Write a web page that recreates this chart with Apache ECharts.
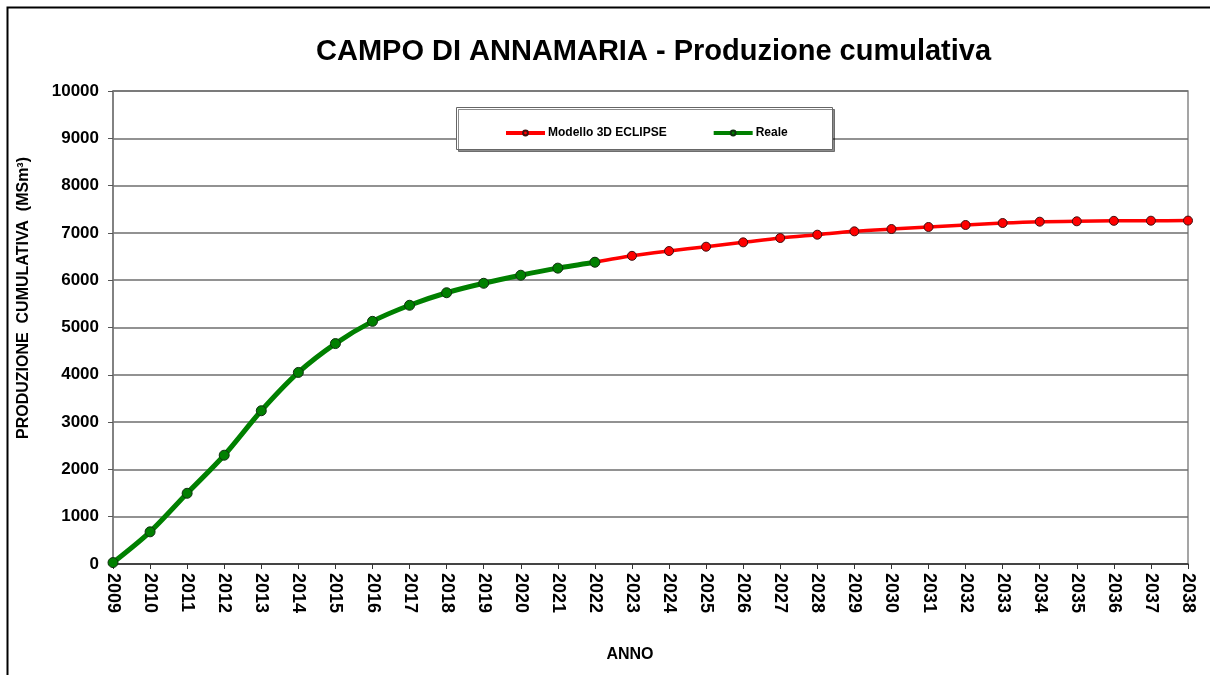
<!DOCTYPE html>
<html>
<head>
<meta charset="utf-8">
<script src="https://cdn.jsdelivr.net/npm/echarts@6/dist/echarts.min.js"></script>
<style>
html, body { margin: 0; padding: 0; background: #fff; }
#main { width: 1210px; height: 675px; }
</style>
</head>
<body>
<div id="main"></div>
<script>
// dati
var anni = ['2009','2010','2011','2012','2013','2014','2015','2016','2017','2018','2019',
            '2020','2021','2022','2023','2024','2025','2026','2027','2028','2029','2030',
            '2031','2032','2033','2034','2035','2036','2037','2038'];
var reale = [30, 680, 1495, 2300, 3240, 4050, 4660, 5130, 5470, 5735, 5935, 6105, 6255, 6380];
var modello = [null, null, null, null, null, null, null, null, null, null, null, null, null,
               6380, 6515, 6617, 6708, 6800, 6892, 6962, 7033, 7082, 7125, 7167, 7209, 7237,
               7245, 7255, 7258, 7260];
var yTicks = [0, 1000, 2000, 3000, 4000, 5000, 6000, 7000, 8000, 9000, 10000];

var font = 'Liberation Sans, Arial, sans-serif';
var chart = echarts.init(document.getElementById('main'));

var option = {
    backgroundColor: '#fff',
    animation: false,
    title: {
        text: 'CAMPO DI ANNAMARIA - Produzione cumulativa',
        left: 311,
        top: 32,
        textStyle: { fontFamily: font, fontSize: 29, fontWeight: 'bold', color: '#000' }
    },
    graphic: [
        {
            type: 'rect', left: 5, top: 5, z: -10,
            shape: { x: 0, y: 0, width: 1250, height: 720 },
            style: { fill: null, stroke: '#000', lineWidth: 2 }
        },
        {
            type: 'rect', left: 456, top: 107, z: 5,
            shape: { x: 0, y: 0, width: 376, height: 42 },
            style: { fill: '#fff', stroke: '#666', lineWidth: 1,
                     shadowColor: 'rgba(0,0,0,0.45)', shadowOffsetX: 2, shadowOffsetY: 2 }
        },
        {
            type: 'text', x: 24, y: 298, rotation: Math.PI / 2,
            style: {
                text: 'PRODUZIONE  CUMULATIVA  (MSm³)',
                font: 'bold 16px ' + font, fill: '#000',
                align: 'center', verticalAlign: 'middle'
            }
        },
        {
            type: 'text', x: 630, y: 655,
            style: {
                text: 'ANNO',
                font: 'bold 16px ' + font, fill: '#000',
                align: 'center', verticalAlign: 'middle'
            }
        }
    ],
    legend: {
        left: 499,
        top: 122,
        z: 10,
        itemWidth: 39,
        itemHeight: 6,
        itemGap: 45,
        data: ['Modello 3D ECLIPSE', 'Reale'],
        lineStyle: { width: 4 },
        textStyle: { fontFamily: font, fontSize: 12, fontWeight: 'bold', color: '#000', padding: [0, 0, 0, -2] }
    },
    grid: { left: 113, right: 22, top: 91, bottom: 111, show: true,
            borderColor: '#888', borderWidth: 1.5, backgroundColor: 'transparent' },
    xAxis: {
        type: 'category',
        data: anni,
        boundaryGap: false,
        axisLine: { lineStyle: { color: '#333', width: 1.5 } },
        axisTick: { show: true, length: 5, lineStyle: { color: '#333' } },
        axisLabel: {
            rotate: -90, margin: 9, interval: 0,
            fontFamily: font, fontSize: 18, fontWeight: 'bold', color: '#000'
        },
        splitLine: { show: false }
    },
    yAxis: {
        type: 'value',
        min: 0, max: 10000, interval: 1000,
        axisLine: { show: true, lineStyle: { color: '#777', width: 1.5 } },
        axisTick: { show: true, length: 5, inside: false, lineStyle: { color: '#555' } },
        axisLabel: {
            margin: 14,
            fontFamily: font, fontSize: 17, fontWeight: 'bold', color: '#000',
            formatter: function (v) { return yTicks.indexOf(v) >= 0 ? String(v) : ''; }
        },
        splitLine: { show: true, lineStyle: { color: '#6e6e6e', width: 1.5 } }
    },
    series: [
        {
            name: 'Modello 3D ECLIPSE',
            type: 'line',
            data: modello,
            smooth: 0.3,
            symbol: 'circle',
            symbolSize: 9,
            z: 3,
            lineStyle: { color: '#ff0000', width: 3.5 },
            itemStyle: { color: '#ff0000', borderColor: '#401010', borderWidth: 1 }
        },
        {
            name: 'Reale',
            type: 'line',
            data: reale,
            smooth: 0.3,
            symbol: 'circle',
            symbolSize: 10,
            z: 4,
            lineStyle: { color: '#008000', width: 5 },
            itemStyle: { color: '#008000', borderColor: '#103010', borderWidth: 1 }
        }
    ]
};

chart.setOption(option);
</script>
</body>
</html>
